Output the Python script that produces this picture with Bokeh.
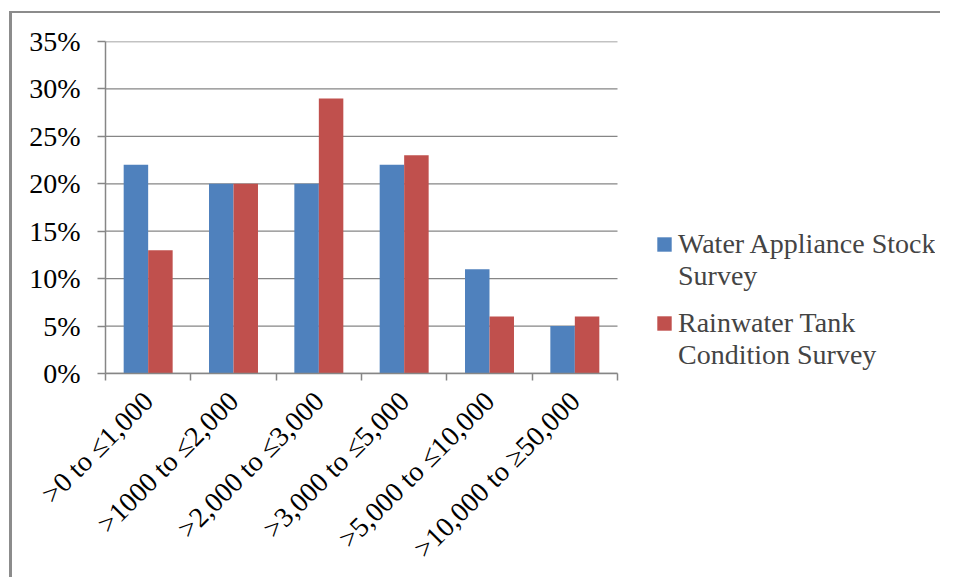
import numpy as np
from bokeh.plotting import figure
from bokeh.models import (ColumnDataSource, FixedTicker, NumeralTickFormatter,
                          Legend, LegendItem, Range1d)
from bokeh.embed import file_html
from bokeh.resources import INLINE

categories = [">0 to \u22641,000", ">1000 to \u22642,000", ">2,000 to \u22643,000",
              ">3,000 to \u22645,000", ">5,000 to \u226410,000", ">10,000 to \u226550,000"]
water_appliance = [0.22, 0.20, 0.20, 0.22, 0.11, 0.05]
rainwater_tank = [0.13, 0.20, 0.29, 0.23, 0.06, 0.06]
series_lines = [["Water Appliance Stock", "Survey"], ["Rainwater Tank", "Condition Survey"]]
y_ticks = [0.0, 0.05, 0.10, 0.15, 0.20, 0.25, 0.30, 0.35]

FONT = "Liberation Serif"
BLUE = "#4F81BD"
RED = "#C0504D"
GRID = "#868686"

n = len(categories)
centers = [i + 0.5 for i in range(n)]
bw = 0.287
src = ColumnDataSource(dict(
    xb=[c - 0.1435 for c in centers],
    xr=[c + 0.1435 for c in centers],
    wa=water_appliance,
    rt=rainwater_tank,
))

# the frame also holds the legend area on the right; the plotting area spans x in [0, n]
PLOT_W = 512
FRAME_W = 830

p = figure(frame_width=FRAME_W, frame_height=332, width=928, height=550,
           min_border_left=93, min_border_top=28, min_border_right=5, min_border_bottom=190,
           x_range=Range1d(0, n * FRAME_W / PLOT_W), y_range=Range1d(0, 0.35),
           output_backend="svg", toolbar_location=None)
p.styles = {"border-left": "3px solid #8c8c8c", "border-top": "2px solid #8c8c8c",
            "margin-left": "9px", "margin-top": "11px"}
p.outline_line_color = None
p.background_fill_color = "white"
p.border_fill_color = "white"
p.xgrid.grid_line_color = None
p.ygrid.grid_line_color = None

# horizontal gridlines limited to the plotting area
p.segment(x0=[0] * len(y_ticks), x1=[n] * len(y_ticks), y0=y_ticks, y1=y_ticks,
          line_color=GRID, line_width=1.3)

r1 = p.vbar(x="xb", top="wa", width=bw, source=src, fill_color=BLUE, line_color=None)
r2 = p.vbar(x="xr", top="rt", width=bw, source=src, fill_color=RED, line_color=None)
# invisible renderer for continuation lines of the legend labels
blank = p.vbar(x=[], top=[], width=bw, fill_alpha=0, line_alpha=0)

# y axis
p.yaxis.ticker = FixedTicker(ticks=y_ticks, minor_ticks=[])
p.yaxis.formatter = NumeralTickFormatter(format="0%")
p.yaxis.axis_line_color = GRID
p.yaxis.axis_line_width = 1.5
p.yaxis.major_tick_line_color = GRID
p.yaxis.major_tick_line_width = 1.5
p.yaxis.major_tick_out = 8
p.yaxis.major_tick_in = 0
p.yaxis.minor_tick_line_color = None
p.yaxis.major_label_standoff = 17
p.yaxis.major_label_text_font = FONT
p.yaxis.major_label_text_font_size = "28px"
p.yaxis.major_label_text_color = "black"

# x axis
p.xaxis.bounds = (0, n)
p.xaxis.ticker = FixedTicker(ticks=centers, minor_ticks=list(range(n + 1)))
p.xaxis.major_label_overrides = {c: lab for c, lab in zip(centers, categories)}
p.xaxis.major_label_orientation = np.pi / 4
p.xaxis.axis_line_color = GRID
p.xaxis.axis_line_width = 1.5
p.xaxis.major_tick_line_color = None
p.xaxis.major_tick_out = 0
p.xaxis.major_tick_in = 0
p.xaxis.minor_tick_line_color = GRID
p.xaxis.minor_tick_line_width = 1.5
p.xaxis.minor_tick_out = 7
p.xaxis.minor_tick_in = 0
p.xaxis.major_label_standoff = 16
p.xaxis.major_label_text_font = FONT
p.xaxis.major_label_text_font_size = "28px"
p.xaxis.major_label_text_color = "black"


def make_legend(lines, renderer, vx, vy):
    lg = Legend(items=[LegendItem(label=lines[0], renderers=[renderer]),
                       LegendItem(label=lines[1], renderers=[blank])],
                location=(vx, vy))
    lg.label_text_font = FONT
    lg.label_text_font_size = "28px"
    lg.label_height = 32
    lg.glyph_width = 18
    lg.glyph_height = 18
    lg.label_standoff = 5
    lg.spacing = 0
    lg.padding = 0
    lg.margin = 0
    lg.border_line_color = None
    lg.background_fill_alpha = 0
    p.add_layout(lg, "center")


make_legend(series_lines[0], r1, 550, 81)
make_legend(series_lines[1], r2, 550, 2)

open("out.html", "w").write(file_html(p, INLINE))
